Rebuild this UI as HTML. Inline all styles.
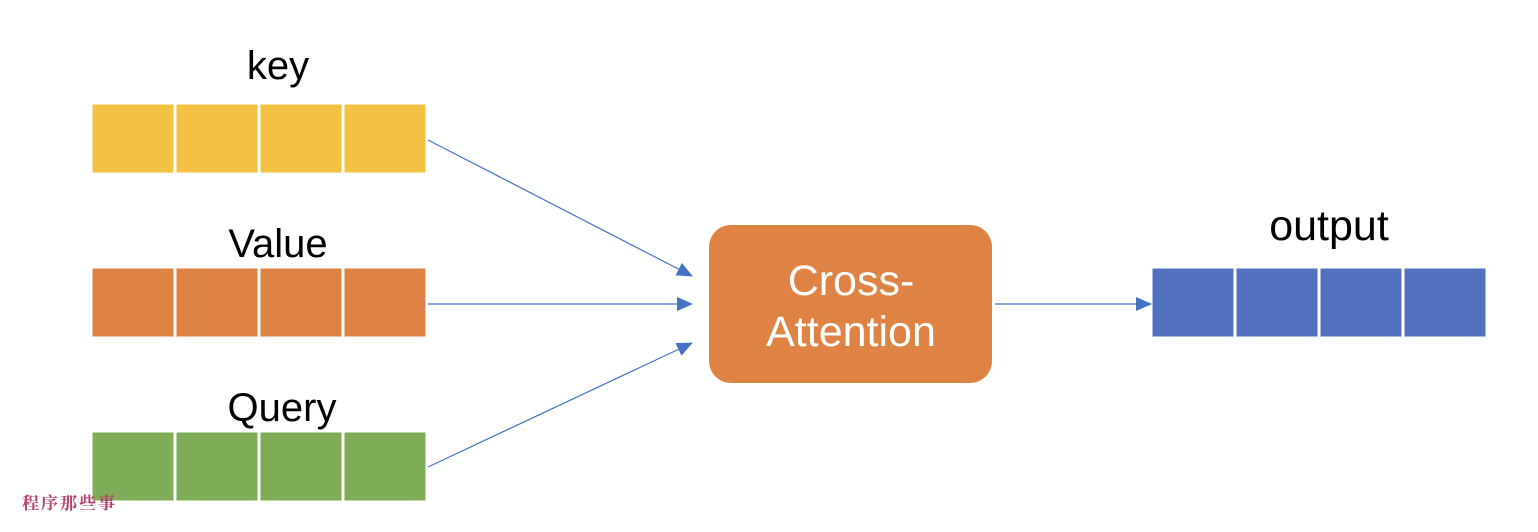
<!DOCTYPE html>
<html><head><meta charset="utf-8"><style>
body{margin:0;background:#fff;width:1538px;height:532px;overflow:hidden}
svg{display:block}
text{font-family:"Liberation Sans","DejaVu Sans",sans-serif}
</style></head><body>
<svg width="1538" height="532" viewBox="0 0 1538 532">
<defs>
<marker id="b" markerWidth="16" markerHeight="14" refX="15" refY="7" orient="auto" markerUnits="userSpaceOnUse" viewBox="0 0 16 14"><path d="M0,0 L16,7 L0,14 z" fill="#4472C4"/></marker></defs>
<g stroke="#fff" stroke-width="3">
<g fill="#F4C242"><rect x="91" y="103" width="84" height="71"/><rect x="175" y="103" width="84" height="71"/><rect x="259" y="103" width="84" height="71"/><rect x="343" y="103" width="84" height="71"/></g>
<g fill="#DF8344"><rect x="91" y="267" width="84" height="71"/><rect x="175" y="267" width="84" height="71"/><rect x="259" y="267" width="84" height="71"/><rect x="343" y="267" width="84" height="71"/></g>
<g fill="#7FAC56"><rect x="91" y="431" width="84" height="71"/><rect x="175" y="431" width="84" height="71"/><rect x="259" y="431" width="84" height="71"/><rect x="343" y="431" width="84" height="71"/></g>
<g fill="#5171BE"><rect x="1151" y="267" width="84" height="71"/><rect x="1235" y="267" width="84" height="71"/><rect x="1319" y="267" width="84" height="71"/><rect x="1403" y="267" width="84" height="71"/></g>
</g>
<g stroke="#4472C4" stroke-width="1.2" fill="none">
<line x1="428" y1="140" x2="692" y2="276" marker-end="url(#b)"/>
<line x1="428" y1="304" x2="692" y2="304" marker-end="url(#b)"/>
<line x1="428" y1="467" x2="692" y2="343" marker-end="url(#b)"/>
<line x1="995" y1="304" x2="1151" y2="304" marker-end="url(#b)"/>
</g>
<rect x="709" y="225" width="283" height="158" rx="22" fill="#DF8344"/>
<g font-size="40" text-anchor="middle">
<text x="278" y="79">key</text>
<text x="278" y="257">Value</text>
<text x="282" y="421">Query</text>
<text x="1329" y="240" font-size="43">output</text>
<text x="851" y="295" fill="#fff" font-size="43">Cross-</text>
<text x="851" y="346" fill="#fff" font-size="43">Attention</text>
</g>
<text x="22" y="509" font-size="17" fill="#B5406E" font-weight="bold" letter-spacing="2" style="font-family:'Noto Serif CJK SC',serif">程序那些事</text>
</svg>
</body></html>
